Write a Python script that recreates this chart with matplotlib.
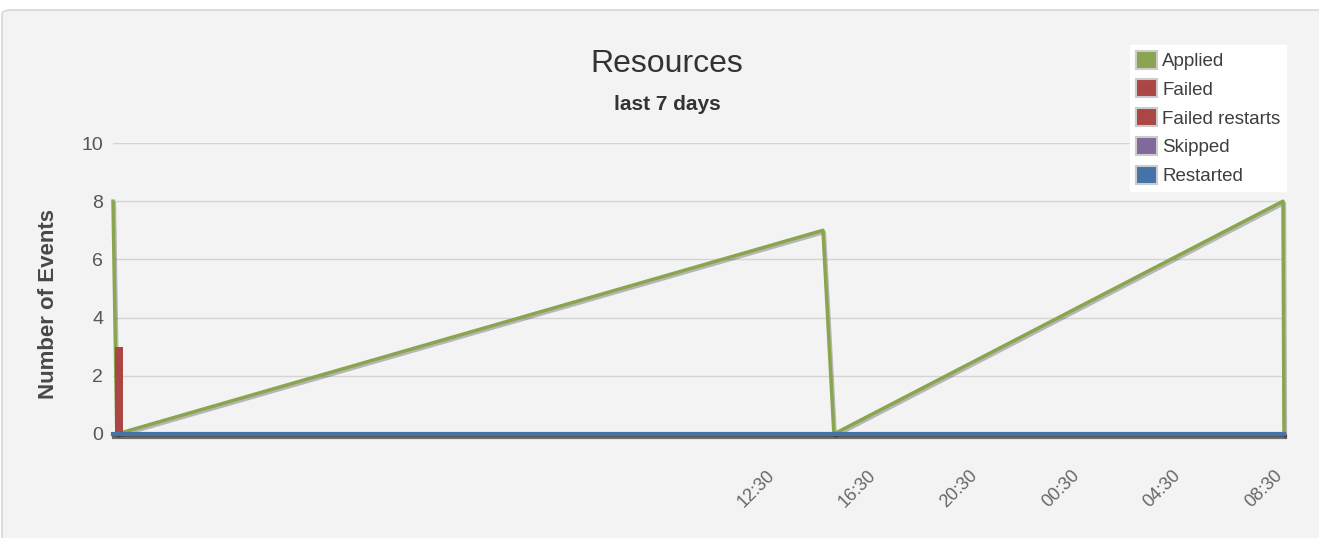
import matplotlib
matplotlib.use("Agg")
import matplotlib.pyplot as plt
import matplotlib.patheffects as pe
from matplotlib.patches import FancyBboxPatch, Patch

# hours relative to 12:30 on the first day
applied_hours = [-25.94, -25.79, 2.01, 2.44, 20.12, 20.16]
applied_values = [8, 0, 7, 0, 8, 0]
failed_hours = [-25.86]
failed_values = [3]
zero_hours = [-25.94, 20.16]
zero_values = [0, 0]

tick_hours = [0, 4, 8, 12, 16, 20]
tick_labels = ["12:30", "16:30", "20:30", "00:30", "04:30", "08:30"]

series_names = ["Applied", "Failed", "Failed restarts", "Skipped", "Restarted"]
series_colors = ["#89A54E", "#AA4643", "#AA4643", "#80699B", "#4572A7"]

plt.rcParams['font.family'] = ['Liberation Sans', 'DejaVu Sans']

fig = plt.figure(figsize=(13.19, 5.38), dpi=100)
fig.patch.set_facecolor("white")
panel = FancyBboxPatch((2 / 1319, -0.1), 1.1, (538 - 10) / 538 + 0.1,
                       boxstyle="round,pad=0,rounding_size=0.008",
                       transform=fig.transFigure, facecolor="#f3f3f3",
                       edgecolor="#d6d6d6", linewidth=1.2, zorder=-5)
fig.patches.append(panel)

ax = fig.add_axes([113 / 1319, 104 / 538, 1171 / 1319, 291 / 538])
ax.set_zorder(2)
ax.set_facecolor("none")
for s in ax.spines.values():
    s.set_visible(False)

ax.set_xlim(zero_hours[0], zero_hours[-1])
ax.set_ylim(0, 10)
ax.set_yticks([0, 2, 4, 6, 8, 10])
ax.grid(axis="y", color="#d4d4d4", linewidth=1)
ax.set_axisbelow(True)
ax.tick_params(axis="y", length=0, pad=7, labelsize=14, labelcolor="#555555")
ax.set_xticks(tick_hours)
ax.set_xticklabels(tick_labels, rotation=45, ha="right", va="center",
                   rotation_mode="anchor")
ax.tick_params(axis="x", length=0, pad=28, labelsize=13, labelcolor="#666666")

shadow = [pe.SimpleLineShadow(offset=(1, -1.5), shadow_color="black", alpha=0.25),
          pe.Normal()]

ax.plot(zero_hours, zero_values, color=series_colors[2], lw=2.5, zorder=3, clip_on=False)
ax.plot(zero_hours, zero_values, color=series_colors[3], lw=2.5, zorder=3, clip_on=False)
ax.plot(applied_hours, applied_values, color=series_colors[0], lw=2.5,
        zorder=4, clip_on=False, path_effects=shadow)
ax.bar(failed_hours, failed_values, width=0.31, align="edge",
       color=series_colors[1], zorder=4.5)
ax.plot(zero_hours, zero_values, color=series_colors[4], lw=3, zorder=5,
        clip_on=False, path_effects=[pe.SimpleLineShadow(offset=(0.5, -2), shadow_color="black", alpha=0.55),
                                     pe.Normal()])

ax.set_ylabel("Number of Events", fontsize=16, fontweight="bold", color="#484848")
ax.yaxis.set_label_coords(-0.046, 0.447)

fig.text(667 / 1319, 1 - 64 / 538, "Resources", fontsize=23, color="#333333",
         ha="center", va="center")
fig.text(667 / 1319, 1 - 105 / 538, "last 7 days", fontsize=15, fontweight="bold",
         color="#333333", ha="center", va="center")

handles = [Patch(facecolor=c, edgecolor="#cccccc", linewidth=1.5) for c in series_colors]
leg = fig.legend(handles, series_names, loc="upper right",
                 bbox_to_anchor=(1286 / 1319, 1 - 45 / 538), fontsize=13.5,
                 frameon=True, fancybox=False, framealpha=1,
                 handlelength=1.1, handleheight=1.1,
                 handletextpad=0.3, labelspacing=0.5, borderpad=0.3,
                 borderaxespad=0)
leg.get_frame().set_facecolor("white")
leg.get_frame().set_edgecolor("white")
for t in leg.get_texts():
    t.set_color("#3e3e3e")

fig.savefig("out.png", dpi=100, facecolor=fig.get_facecolor())
